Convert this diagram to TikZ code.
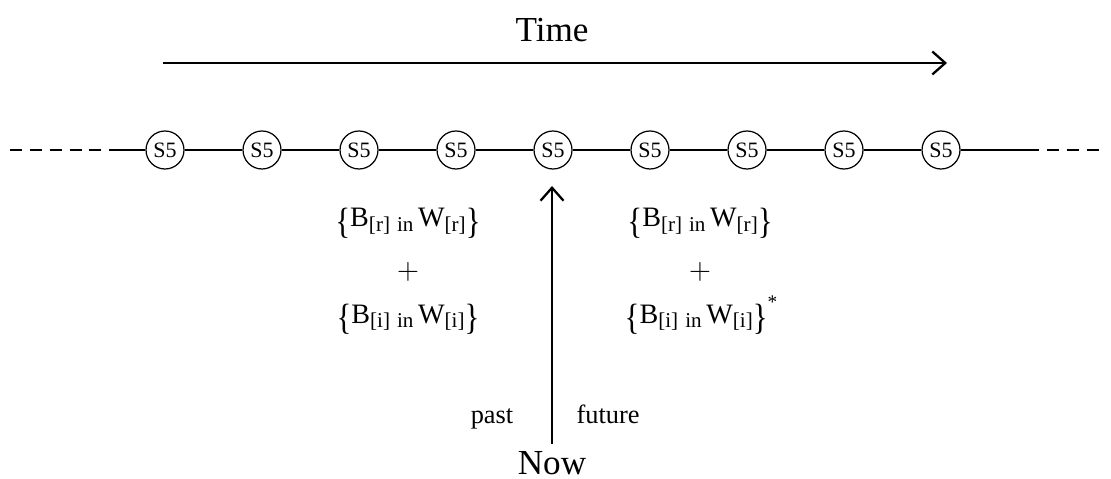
\documentclass[tikz,border=0pt]{standalone}
\usepackage{fontspec}
\setmainfont{Liberation Serif}
\usepackage{graphicx}
\usetikzlibrary{arrows.meta,positioning}
\newcommand{\sub}[1]{\raisebox{-0.35ex}{\fontsize{12}{12}\selectfont #1}}
\newcommand{\brc}[1]{\raisebox{-0.5ex}{\scalebox{1.1}[1.3]{#1}}}
\newcommand{\BinW}[1]{\brc{\{}B\sub{[#1]\,\,in}\,W\sub{[#1]}\brc{\}}}

\begin{document}
\begin{tikzpicture}[x=0.02cm, y=-0.02cm, every node/.style={font=\fontsize{16}{18}\selectfont}]
        \useasboundingbox (0,0) rectangle (1111,479);

        % time axis
        \node[anchor=base, font=\fontsize{20}{22}\selectfont] (time) at (552,42) {Time};
        \coordinate (t0) at (163,63);
        \coordinate (t1) at (947,63);
        \draw[-{Straight Barb[length=2.6mm, width=4.6mm]}, line width=1.3pt] (t0) -- (t1);

        % states
        \foreach \i in {1,...,9}{
          \node[circle, draw, line width=0.7pt, minimum size=0.76cm, inner sep=0pt,
                font=\fontsize{12.5}{12.5}\selectfont]
                (c\i) at ({165+97*(\i-1)},150) {S5};}
        \foreach \i [count=\j from 2] in {1,...,8}{
          \draw[line width=1.3pt] (c\i) -- (c\j);}

        \coordinate (lend) at (10,150);
        \coordinate (lcut) at (114,150);
        \coordinate (rcut) at (1027,150);
        \coordinate (rend) at (1104,150);
        \draw[line width=1.3pt] (lcut) -- (c1);
        \draw[line width=1.3pt] (c9) -- (rcut);
        \draw[line width=1.6pt, dash pattern=on 6.8pt off 4.5pt] (lend) -- (lcut);
        \draw[line width=1.6pt, dash pattern=on 6.8pt off 4.5pt] (rcut) -- (rend);

        % blocks
        \node[anchor=base] (pastr) at (408,227) {\BinW{r}};
        \node (pastp) at (408,272) {$+$};
        \node[anchor=base] (pasti) at (408,323) {\BinW{i}};
        \node[anchor=base] (futr) at (700,227) {\BinW{r}};
        \node (futp) at (700,272) {$+$};
        \node[anchor=base] (futi) at (701,323) {\BinW{i}\raisebox{8.5pt}{\fontsize{11}{11}\selectfont *}};

        % now
        \node[anchor=base, inner sep=4pt, font=\fontsize{20}{22}\selectfont] (now) at (552,474) {Now};
        \coordinate (nowtip) at (552,186);
        \draw[-{Straight Barb[length=2.6mm, width=4.6mm]}, line width=1.3pt] (now.north) -- (nowtip);
        \node[anchor=base, font=\fontsize{15}{17}\selectfont] (past) at (492,423) {past};
        \node[anchor=base, font=\fontsize{15}{17}\selectfont] (future) at (608,423) {future};
      \end{tikzpicture}
\end{document}
